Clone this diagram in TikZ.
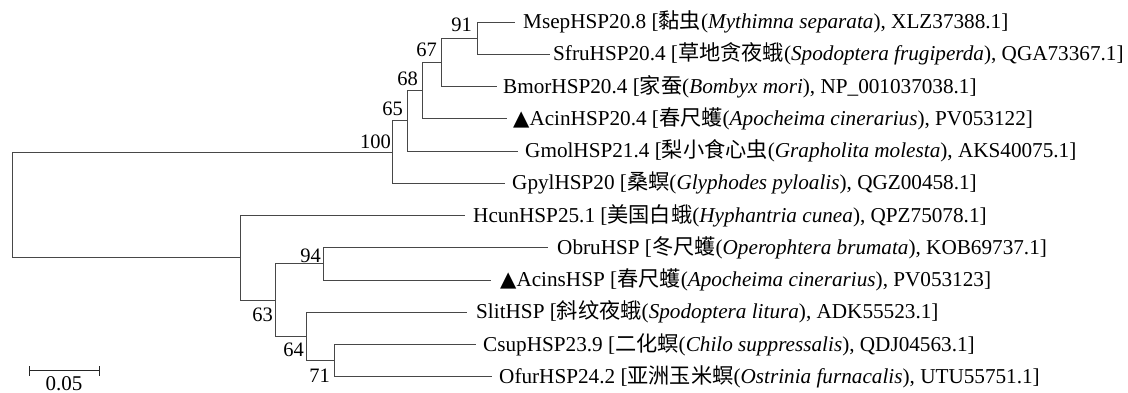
\documentclass[tikz,border=0pt]{standalone}
\usepackage{fontspec}
\setmainfont{Liberation Serif}
\newfontfamily\cjk{Noto Sans CJK SC}
\newfontfamily\symf{DejaVu Sans}
\newcommand{\tri}{{\symf ▲}}

\begin{document}
\begin{tikzpicture}[x=1pt, y=-1pt,
  branch/.style={draw=black!72, line width=1pt},
  leaf/.style={anchor=base west, inner sep=0pt, font=\fontsize{21.2}{21.2}\selectfont},
  boot/.style={anchor=base east, inner sep=0pt, font=\fontsize{20.5}{20.5}\selectfont}]
\useasboundingbox (0,0) rectangle (1128,392);

% internal nodes of the tree
\coordinate (root) at (12,204.9);
\coordinate (n100) at (392.7,152);
\coordinate (n65) at (407.7,120.75);
\coordinate (n68) at (422.7,90.5);
\coordinate (n67) at (441,62.3);
\coordinate (n91) at (477,38.1);
\coordinate (nB) at (240,257.8);
\coordinate (n63) at (275.7,300.2);
\coordinate (n94) at (323.3,263.9);
\coordinate (n64) at (306.7,336.4);
\coordinate (n71) at (334.3,360.6);

% branch tips
\coordinate (tMsep) at (515,22);
\coordinate (tSfru) at (550,54.25);
\coordinate (tBmor) at (497,86.5);
\coordinate (tAcin) at (507,118.75);
\coordinate (tGmol) at (518,151);
\coordinate (tGpyl) at (505,183.25);
\coordinate (tHcun) at (465,215.5);
\coordinate (tObru) at (548,247.75);
\coordinate (tAcins) at (491,280);
\coordinate (tSlit) at (467,312.25);
\coordinate (tCsup) at (476,344.5);
\coordinate (tOfur) at (492,376.75);

% taxon labels
\node[leaf] (Msep) at (523,28.5) {MsepHSP20.8 [{\cjk 黏虫}(\textit{Mythimna separata}), XLZ37388.1]};
\node[leaf] (Sfru) at (553,60.75) {SfruHSP20.4 [{\cjk 草地贪夜蛾}(\textit{Spodoptera frugiperda}), QGA73367.1]};
\node[leaf] (Bmor) at (503,93) {BmorHSP20.4 [{\cjk 家蚕}(\textit{Bombyx mori}), NP\_001037038.1]};
\node[leaf] (Acin) at (513,125.25) {\tri AcinHSP20.4 [{\cjk 春尺蠖}(\textit{Apocheima cinerarius}), PV053122]};
\node[leaf] (Gmol) at (525,157.5) {GmolHSP21.4 [{\cjk 梨小食心虫}(\textit{Grapholita molesta}), AKS40075.1]};
\node[leaf] (Gpyl) at (512,189.75) {GpylHSP20 [{\cjk 桑螟}(\textit{Glyphodes pyloalis}), QGZ00458.1]};
\node[leaf] (Hcun) at (473,222) {HcunHSP25.1 [{\cjk 美国白蛾}(\textit{Hyphantria cunea}), QPZ75078.1]};
\node[leaf] (Obru) at (557,254.25) {ObruHSP [{\cjk 冬尺蠖}(\textit{Operophtera brumata}), KOB69737.1]};
\node[leaf] (Acins) at (500,286.5) {\tri AcinsHSP [{\cjk 春尺蠖}(\textit{Apocheima cinerarius}), PV053123]};
\node[leaf] (Slit) at (476,318.75) {SlitHSP [{\cjk 斜纹夜蛾}(\textit{Spodoptera litura}), ADK55523.1]};
\node[leaf] (Csup) at (483,351) {CsupHSP23.9 [{\cjk 二化螟}(\textit{Chilo suppressalis}), QDJ04563.1]};
\node[leaf] (Ofur) at (499,383.25) {OfurHSP24.2 [{\cjk 亚洲玉米螟}(\textit{Ostrinia furnacalis}), UTU55751.1]};

% branches
\draw[branch] (root) |- (n100);
\draw[branch] (root) |- (nB);
\draw[branch] (n100) |- (n65);
\draw[branch] (n100) |- (tGpyl);
\draw[branch] (n65) |- (n68);
\draw[branch] (n65) |- (tGmol);
\draw[branch] (n68) |- (n67);
\draw[branch] (n68) |- (tAcin);
\draw[branch] (n67) |- (n91);
\draw[branch] (n67) |- (tBmor);
\draw[branch] (n91) |- (tMsep);
\draw[branch] (n91) |- (tSfru);
\draw[branch] (nB) |- (tHcun);
\draw[branch] (nB) |- (n63);
\draw[branch] (n63) |- (n94);
\draw[branch] (n63) |- (n64);
\draw[branch] (n94) |- (tObru);
\draw[branch] (n94) |- (tAcins);
\draw[branch] (n64) |- (tSlit);
\draw[branch] (n64) |- (n71);
\draw[branch] (n71) |- (tCsup);
\draw[branch] (n71) |- (tOfur);

% bootstrap values
\node[boot] (b91) at (472,31) {91};
\node[boot] (b67) at (437,56) {67};
\node[boot] (b68) at (418,85) {68};
\node[boot] (b65) at (403,115) {65};
\node[boot] (b100) at (391,148) {100};
\node[boot] (b94) at (321,262.5) {94};
\node[boot] (b63) at (273,321.7) {63};
\node[boot] (b64) at (304,356.7) {64};
\node[boot] (b71) at (330,382.3) {71};

% scale bar
\coordinate (s0) at (29,370.7);
\coordinate (s1) at (99,370.7);
\draw[line width=1pt, black!85] (s0) -- (s1);
\draw[line width=1pt, black!85] ([yshift=-5pt]s0) -- ([yshift=5pt]s0);
\draw[line width=1pt, black!85] ([yshift=-5pt]s1) -- ([yshift=5pt]s1);
\node[anchor=base, inner sep=0pt, font=\fontsize{21}{21}\selectfont] (scale) at (64,390) {0.05};
\end{tikzpicture}
\end{document}
